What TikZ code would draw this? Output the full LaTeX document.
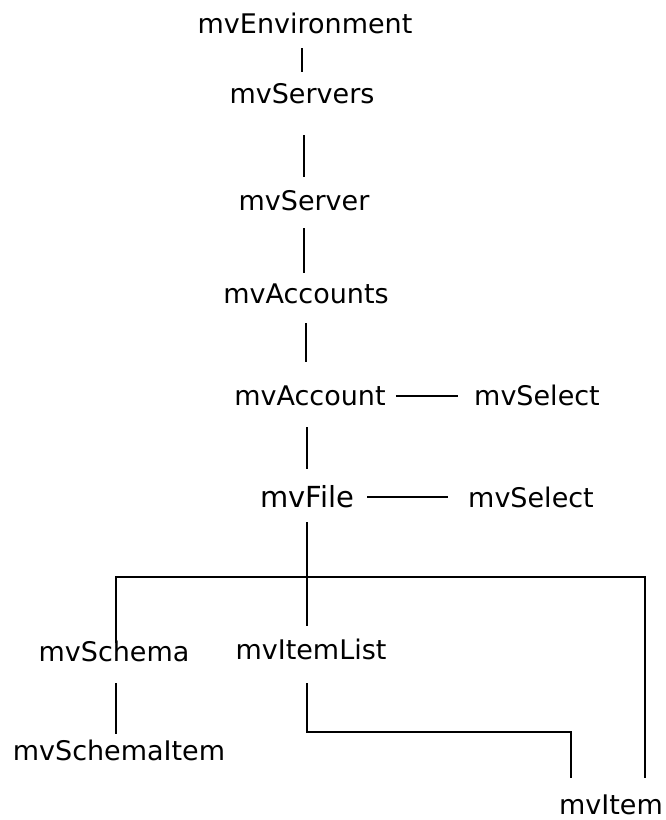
\documentclass[tikz,border=0pt]{standalone}
\usepackage{fontspec}
\setmainfont{DejaVu Sans}
\begin{document}
\begin{tikzpicture}[x=1pt,y=1pt,
  lbl/.style={anchor=base,inner sep=0pt,text height=18pt,text depth=0pt,font=\fontsize{27}{29}\selectfont},
  big/.style={text height=20pt,font=\fontsize{29}{31}\selectfont},
  conn/.style={line width=1.8pt}]
\useasboundingbox (0,0) rectangle (666,-820);
\node[lbl] (env) at (305,-33) {mvEnvironment};
\node[lbl] (srvs) at (302,-103) {mvServers};
\node[lbl] (srv) at (304,-210) {mvServer};
\node[lbl] (accts) at (306,-303) {mvAccounts};
\node[lbl] (acct) at (310,-405) {mvAccount};
\node[lbl] (sel1) at (537,-405) {mvSelect};
\node[lbl,big] (file) at (307,-507) {mvFile};
\node[lbl] (sel2) at (531,-507) {mvSelect};
\node[lbl] (schema) at (114,-661) {mvSchema};
\node[lbl] (itemlist) at (311,-659) {mvItemList};
\node[lbl] (schemaitem) at (119,-760) {mvSchemaItem};
\node[lbl] (item) at (611,-814) {mvItem};
\coordinate (busL) at (116,-577);
\coordinate (busR) at (645,-577);
\coordinate (elb) at (571,-732);
\draw[conn,shorten <=15pt,shorten >=13pt] (env.south -| srvs) -- (srvs.north);
\draw[conn,shorten <=32pt,shorten >=15pt] (srvs.south -| srv) -- (srv.north);
\draw[conn,shorten <=18pt,shorten >=12pt] (srv.south) -- (srv.south |- accts.north);
\draw[conn,shorten <=20pt,shorten >=25pt] (accts.south) -- (accts.south |- acct.north);
\draw[conn,shorten <=22pt,shorten >=18pt] (acct.south -| file) -- (file.north);
\draw[conn,shorten <=10pt,shorten >=16pt] (acct.east) -- (sel1.west |- acct.east);
\draw[conn,shorten <=13pt,shorten >=20pt] (file.east) -- (sel2.west |- file.east);
\draw[conn,shorten <=15pt,shorten >=15pt] (file.south) -- (file.south |- itemlist.north);
\draw[conn,shorten >=18pt] (busL |- schema.north) -- (busL) -- (busR) -- (busR |- item.north);
\draw[conn,shorten <=22pt,shorten >=8pt] (schema.south -| busL) -- (busL |- schemaitem.north);
\draw[conn,shorten <=24pt,shorten >=18pt] (itemlist.south -| file.south) -- (file.south |- elb) -- (elb) -- (elb |- item.north);
\end{tikzpicture}
\end{document}
